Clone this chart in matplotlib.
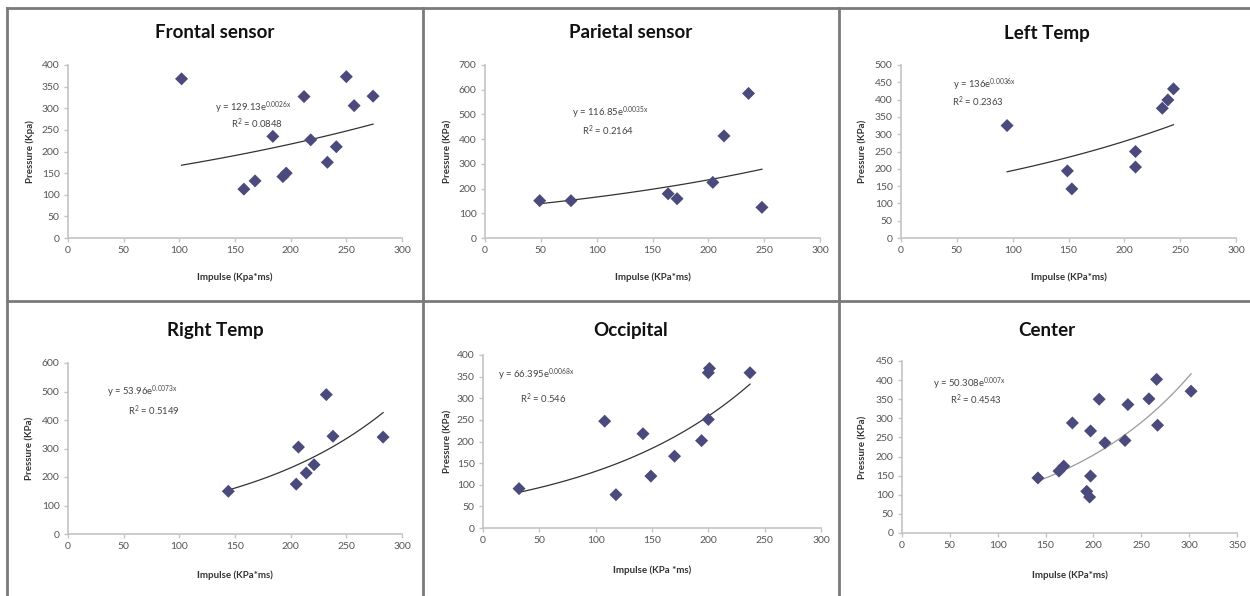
import matplotlib
matplotlib.use("Agg")
import matplotlib.pyplot as plt
from matplotlib.lines import Line2D
import numpy as np

plt.rcParams['font.family'] = ['Lato', 'DejaVu Sans']
plt.rcParams['mathtext.fontset'] = 'custom'
plt.rcParams['mathtext.rm'] = 'Lato'
plt.rcParams['mathtext.it'] = 'Lato'

# ---------------- data ----------------
titles = ["Frontal sensor", "Parietal sensor", "Left Temp",
          "Right Temp", "Occipital", "Center"]

frontal_x = [102, 250, 212, 274, 257, 184, 218, 241, 233, 196, 193, 168, 158]
frontal_y = [368, 373, 327, 328, 306, 235, 227, 211, 175, 150, 142, 132, 113]

parietal_x = [49, 77, 164, 172, 204, 214, 236, 248]
parietal_y = [151, 151, 179, 159, 225, 413, 585, 124]

lefttemp_x = [95, 149, 153, 210, 210, 234, 239, 244]
lefttemp_y = [325, 194, 142, 250, 205, 375, 399, 431]

righttemp_x = [144, 205, 207, 214, 221, 232, 238, 283]
righttemp_y = [150, 175, 305, 214, 243, 489, 343, 340]

occipital_x = [32, 108, 118, 142, 149, 170, 194, 200, 200, 201, 237]
occipital_y = [91, 247, 77, 218, 120, 166, 202, 251, 359, 369, 359]

center_x = [142, 164, 169, 178, 197, 197, 193, 196, 206, 212, 233, 236, 258, 266, 267, 302]
center_y = [144, 162, 175, 288, 267, 149, 109, 94, 350, 236, 242, 336, 351, 402, 282, 371]

xs = [frontal_x, parietal_x, lefttemp_x, righttemp_x, occipital_x, center_x]
ys = [frontal_y, parietal_y, lefttemp_y, righttemp_y, occipital_y, center_y]

# trendline coefficients  y = a * exp(b x)
trend_a = [129.13, 116.85, 136, 53.96, 66.395, 50.308]
trend_b = [0.0026, 0.0035, 0.0036, 0.0073, 0.0068, 0.0070]
r2_text = ["0.0848", "0.2164", "0.2363", "0.5149", "0.546", "0.4543"]
a_text = ["129.13", "116.85", "136", "53.96", "66.395", "50.308"]
b_text = ["0.0026x", "0.0035x", "0.0036x", "0.0073x", "0.0068x", "0.007x"]

x_max = [300, 300, 300, 300, 300, 350]
y_max = [400, 700, 500, 600, 400, 450]
y_step = [50, 100, 50, 100, 50, 50]

xlabels = ["Impulse (Kpa*ms)", "Impulse (KPa*ms)", "Impulse (KPa*ms)",
           "Impulse (KPa*ms)", "Impulse (KPa *ms)", "Impulse (KPa*ms)"]
ylabels = ["Pressure (Kpa)", "Pressure (KPa)", "Pressure (KPa)",
           "Pressure (KPa)", "Pressure (KPa)", "Pressure (KPa)"]

# equation label positions (data coords)
eq_pos = [(166, 302), (112, 507), (75, 443), (67, 499), (47, 355), (70, 391)]
r2_pos = [(170, 265), (110, 433), (69, 394), (77, 434), (53, 299), (77, 348)]

# ---------------- layout (pixels) ----------------
W, H = 1250, 596
fig = plt.figure(figsize=(W / 100, H / 100), dpi=100)
fig.patch.set_facecolor('white')

# axes boxes: x0, x1, y_bottom, y_top in pixels
boxes = [(68, 402, 238, 65), (485, 820, 238, 65), (901, 1236, 238, 65),
         (68, 402, 534, 363), (483, 821, 528, 355), (902, 1237, 533, 361)]
title_xy = [(215, 33), (631, 33), (1047, 33), (215, 331), (631, 331), (1047, 331)]
xlab_y = [277, 277, 277, 575, 570, 575]
ylab_x = [30, 448, 863, 30, 448, 863]

for i in range(6):
    x0, x1, yb, yt = boxes[i]
    ax = fig.add_axes([x0 / W, 1 - yb / H, (x1 - x0) / W, (yb - yt) / H])
    ax.set_facecolor('none')
    ax.set_xlim(0, x_max[i])
    ax.set_ylim(0, y_max[i])
    ax.set_xticks(np.arange(0, x_max[i] + 1, 50))
    ax.set_yticks(np.arange(0, y_max[i] + 1, y_step[i]))
    for s in ['top', 'right']:
        ax.spines[s].set_visible(False)
    for s in ['left', 'bottom']:
        ax.spines[s].set_color('#c4c4c4')
        ax.spines[s].set_linewidth(1.2)
    ax.tick_params(axis='both', colors='#c4c4c4', labelcolor='#555555',
                   labelsize=7.5, length=3, width=1, direction='out', pad=3)

    # trendline
    tx = np.linspace(min(xs[i]), max(xs[i]), 100)
    ax.plot(tx, trend_a[i] * np.exp(trend_b[i] * tx),
            color='#9a9a9a' if i == 5 else '#333333', lw=0.9, zorder=2)
    # markers
    ax.scatter(xs[i], ys[i], marker='D', s=44, color='#4a4a7c',
               edgecolors='none', zorder=3, clip_on=False)

    ax.text(*eq_pos[i], "y = " + a_text[i] + "e$^{" + b_text[i] + "}$",
            ha='center', va='center', fontsize=6.8, color='#444444')
    ax.text(*r2_pos[i], "R$^{2}$ = " + r2_text[i],
            ha='center', va='center', fontsize=6.8, color='#444444')

    tx_, ty_ = title_xy[i]
    fig.text(tx_ / W, 1 - ty_ / H, titles[i], ha='center', va='center',
             fontsize=13.5, fontweight='bold', color='#111111')
    fig.text(((x0 + x1) / 2) / W, 1 - xlab_y[i] / H, xlabels[i],
             ha='center', va='center', fontsize=7, fontweight='bold',
             color='#333333')
    fig.text(ylab_x[i] / W, 1 - ((yb + yt) / 2) / H, ylabels[i],
             ha='center', va='center', rotation=90, fontsize=7,
             fontweight='bold', color='#333333')

# panel borders
bc = '#7a7a7a'
lines = [((7, 1250), (8, 8)), ((7, 7), (8, 596)), ((423, 423), (8, 596)),
         ((839, 839), (8, 596)), ((7, 1250), (301, 301))]
for (lx, ly) in lines:
    fig.add_artist(Line2D([lx[0] / W, lx[1] / W], [1 - ly[0] / H, 1 - ly[1] / H],
                          color=bc, lw=2.0))

fig.savefig("out.png", dpi=100, facecolor='white')
